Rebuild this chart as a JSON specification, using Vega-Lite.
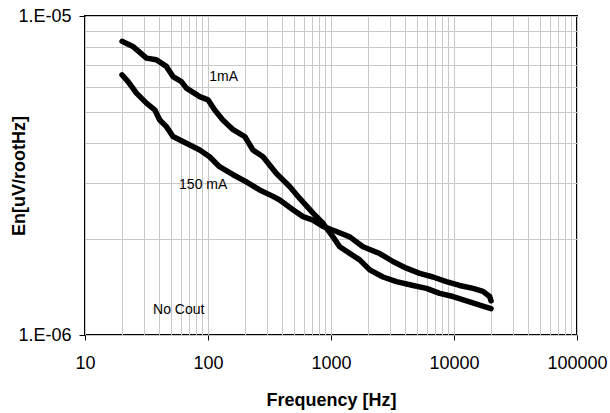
{
  "$schema": "https://vega.github.io/schema/vega-lite/v6.json",
  "description": "En noise density vs frequency, No Cout",
  "width": 492,
  "height": 319,
  "autosize": {"type": "none"},
  "padding": {"left": 85, "top": 16, "right": 33, "bottom": 78},
  "background": "white",
  "datasets": {
    "curves": [
      {"current": "1mA", "freq": 20, "en": 8.33e-6},
      {"current": "1mA", "freq": 24.5, "en": 8.03e-6},
      {"current": "1mA", "freq": 31.6, "en": 7.38e-6},
      {"current": "1mA", "freq": 38, "en": 7.29e-6},
      {"current": "1mA", "freq": 45.9, "en": 6.95e-6},
      {"current": "1mA", "freq": 51.9, "en": 6.46e-6},
      {"current": "1mA", "freq": 60.8, "en": 6.23e-6},
      {"current": "1mA", "freq": 66.7, "en": 5.94e-6},
      {"current": "1mA", "freq": 85.7, "en": 5.59e-6},
      {"current": "1mA", "freq": 100, "en": 5.46e-6},
      {"current": "1mA", "freq": 113, "en": 5.08e-6},
      {"current": "1mA", "freq": 132, "en": 4.72e-6},
      {"current": "1mA", "freq": 160, "en": 4.40e-6},
      {"current": "1mA", "freq": 199, "en": 4.19e-6},
      {"current": "1mA", "freq": 232, "en": 3.80e-6},
      {"current": "1mA", "freq": 280, "en": 3.62e-6},
      {"current": "1mA", "freq": 360, "en": 3.21e-6},
      {"current": "1mA", "freq": 461, "en": 2.92e-6},
      {"current": "1mA", "freq": 557, "en": 2.68e-6},
      {"current": "1mA", "freq": 714, "en": 2.41e-6},
      {"current": "1mA", "freq": 861, "en": 2.24e-6},
      {"current": "1mA", "freq": 1038, "en": 2.03e-6},
      {"current": "1mA", "freq": 1177, "en": 1.89e-6},
      {"current": "1mA", "freq": 1711, "en": 1.72e-6},
      {"current": "1mA", "freq": 2065, "en": 1.60e-6},
      {"current": "1mA", "freq": 2650, "en": 1.52e-6},
      {"current": "1mA", "freq": 3407, "en": 1.47e-6},
      {"current": "1mA", "freq": 4645, "en": 1.43e-6},
      {"current": "1mA", "freq": 5970, "en": 1.40e-6},
      {"current": "1mA", "freq": 7650, "en": 1.35e-6},
      {"current": "1mA", "freq": 9820, "en": 1.32e-6},
      {"current": "1mA", "freq": 13400, "en": 1.27e-6},
      {"current": "1mA", "freq": 16200, "en": 1.24e-6},
      {"current": "1mA", "freq": 20000, "en": 1.21e-6},
      {"current": "150 mA", "freq": 20, "en": 6.54e-6},
      {"current": "150 mA", "freq": 22.4, "en": 6.23e-6},
      {"current": "150 mA", "freq": 26.2, "en": 5.73e-6},
      {"current": "150 mA", "freq": 31.6, "en": 5.33e-6},
      {"current": "150 mA", "freq": 36.9, "en": 5.08e-6},
      {"current": "150 mA", "freq": 40.5, "en": 4.72e-6},
      {"current": "150 mA", "freq": 45.9, "en": 4.50e-6},
      {"current": "150 mA", "freq": 51.9, "en": 4.19e-6},
      {"current": "150 mA", "freq": 66.7, "en": 3.99e-6},
      {"current": "150 mA", "freq": 85.7, "en": 3.80e-6},
      {"current": "150 mA", "freq": 103, "en": 3.62e-6},
      {"current": "150 mA", "freq": 124, "en": 3.37e-6},
      {"current": "150 mA", "freq": 160, "en": 3.18e-6},
      {"current": "150 mA", "freq": 205, "en": 3.02e-6},
      {"current": "150 mA", "freq": 263, "en": 2.85e-6},
      {"current": "150 mA", "freq": 338, "en": 2.72e-6},
      {"current": "150 mA", "freq": 383, "en": 2.65e-6},
      {"current": "150 mA", "freq": 491, "en": 2.47e-6},
      {"current": "150 mA", "freq": 592, "en": 2.35e-6},
      {"current": "150 mA", "freq": 714, "en": 2.29e-6},
      {"current": "150 mA", "freq": 861, "en": 2.19e-6},
      {"current": "150 mA", "freq": 1107, "en": 2.11e-6},
      {"current": "150 mA", "freq": 1419, "en": 2.03e-6},
      {"current": "150 mA", "freq": 1820, "en": 1.89e-6},
      {"current": "150 mA", "freq": 2490, "en": 1.80e-6},
      {"current": "150 mA", "freq": 3190, "en": 1.70e-6},
      {"current": "150 mA", "freq": 4100, "en": 1.62e-6},
      {"current": "150 mA", "freq": 5260, "en": 1.56e-6},
      {"current": "150 mA", "freq": 6750, "en": 1.52e-6},
      {"current": "150 mA", "freq": 8670, "en": 1.47e-6},
      {"current": "150 mA", "freq": 11100, "en": 1.43e-6},
      {"current": "150 mA", "freq": 14300, "en": 1.40e-6},
      {"current": "150 mA", "freq": 17200, "en": 1.37e-6},
      {"current": "150 mA", "freq": 19500, "en": 1.32e-6},
      {"current": "150 mA", "freq": 20000, "en": 1.28e-6}
    ],
    "labels": [
      {"freq": 134, "en": 6.45e-6, "text": "1mA"},
      {"freq": 91.4, "en": 2.95e-6, "text": "150 mA"},
      {"freq": 57.8, "en": 1.2e-6, "text": "No Cout"}
    ]
  },
  "encoding": {
    "x": {
      "field": "freq",
      "type": "quantitative",
      "scale": {"type": "log", "domain": [10, 100000], "nice": false},
      "axis": {
        "title": "Frequency [Hz]",
        "values": [10, 20, 30, 40, 50, 60, 70, 80, 90, 100, 200, 300, 400, 500, 600, 700, 800, 900, 1000, 2000, 3000, 4000, 5000, 6000, 7000, 8000, 9000, 10000, 20000, 30000, 40000, 50000, 60000, 70000, 80000, 90000, 100000],
        "format": "d",
        "labelExpr": "indexof([10, 100, 1000, 10000, 100000], datum.value) >= 0 ? datum.label : ''",
        "labelOverlap": false,
        "labelFlush": false,
        "tickOpacity": {"condition": {"test": "indexof([10, 100, 1000, 10000, 100000], datum.value) >= 0", "value": 1}, "value": 0},
        "tickSize": 5,
        "labelPadding": 14,
        "titlePadding": 19
      }
    },
    "y": {
      "field": "en",
      "type": "quantitative",
      "scale": {"type": "log", "domain": [0.000001, 0.00001], "nice": false},
      "axis": {
        "title": "En[uV/rootHz]",
        "values": [0.000001, 0.000002, 0.000003, 0.000004, 0.000005, 0.000006, 0.000007, 0.000008, 0.000009, 0.00001],
        "labelExpr": "datum.value == 0.00001 ? '1.E-05' : datum.value == 0.000001 ? '1.E-06' : ''",
        "labelOverlap": false,
        "labelFlush": false,
        "tickOpacity": {"condition": {"test": "datum.value == 0.00001 || datum.value == 0.000001", "value": 1}, "value": 0},
        "tickSize": 6,
        "labelPadding": 8,
        "titlePadding": -11
      }
    }
  },
  "layer": [
    {
      "data": {"name": "curves"},
      "mark": {"type": "line", "color": "black", "strokeWidth": 5.5, "strokeJoin": "round", "strokeCap": "round"},
      "encoding": {
        "detail": {"field": "current", "type": "nominal"}
      }
    },
    {
      "data": {"name": "labels"},
      "mark": {"type": "text", "font": "Liberation Sans", "fontSize": 14, "color": "black"},
      "encoding": {
        "text": {"field": "text", "type": "nominal"}
      }
    }
  ],
  "config": {
    "font": "Liberation Sans",
    "view": {"stroke": "black", "strokeWidth": 2},
    "axis": {
      "grid": true,
      "gridColor": "#c8c8c8",
      "gridWidth": 1,
      "gridOpacity": 1,
      "domain": false,
      "tickColor": "black",
      "tickWidth": 1,
      "labelFont": "Liberation Sans",
      "labelFontSize": 18,
      "labelColor": "black",
      "titleFont": "Liberation Sans",
      "titleFontSize": 18,
      "titleFontWeight": "bold",
      "titleColor": "black"
    }
  }
}
